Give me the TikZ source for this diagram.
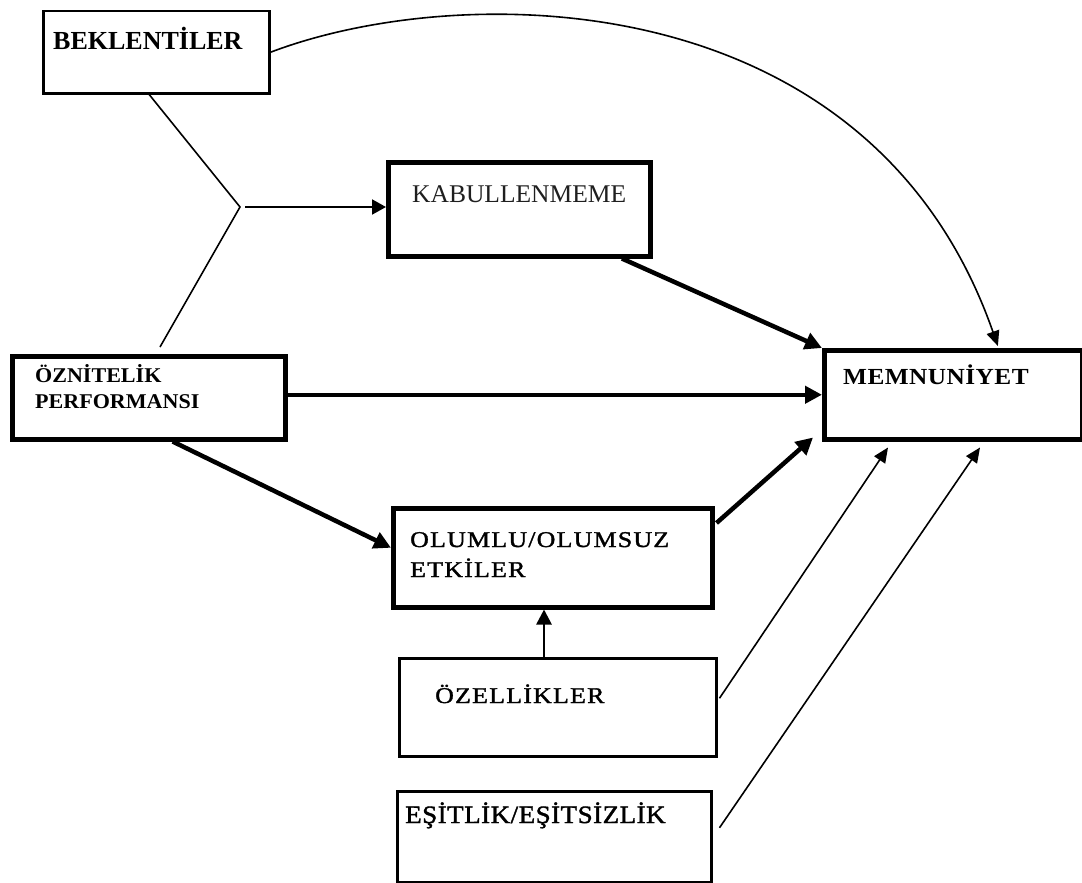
\documentclass[tikz,border=0pt]{standalone}
\usepackage{fontspec}
\setmainfont{Liberation Serif}
\newfontfamily\wideA[FakeStretch=1.15,LetterSpace=5.5,FakeBold=1.5]{Liberation Serif}
\newfontfamily\wideB[FakeStretch=1.08,LetterSpace=2,FakeBold=1.5]{Liberation Serif}
\newfontfamily\wideC[FakeStretch=1.1,LetterSpace=2]{Liberation Serif}
\newfontfamily\wideD[FakeStretch=1.05]{Liberation Serif}
\usetikzlibrary{arrows.meta,calc}
\begin{document}
\begin{tikzpicture}[x=1pt,y=-1pt,
  boxthin/.style={draw,line width=2.5pt,rectangle,inner sep=0pt,anchor=north west},
  boxthick/.style={draw,line width=4.5pt,rectangle,inner sep=0pt,anchor=north west},
  label text/.style={anchor=base west,inner sep=0pt,align=left},
  thinline/.style={line width=1.6pt},
  thinarrow/.style={line width=1.6pt,-{Triangle[length=15pt,width=13pt]}},
  forkarrow/.style={line width=2pt,-{Triangle[length=14pt,width=15pt]}},
  midarrow/.style={line width=2.6pt,-{Triangle[length=15pt,width=15pt]}},
  thickarrow/.style={line width=4.5pt,-{Triangle[length=17pt,width=17pt]}}]
\fill[white] (0,0) rectangle (1082,883);
\useasboundingbox (0,0) rectangle (1082,883);

% boxes
\node[boxthin,minimum width=226pt,minimum height=82pt] (bek) at (42,10) {};
\node[boxthick,minimum width=262pt,minimum height=94pt] (kab) at (386,160) {};
\node[boxthick,minimum width=273pt,minimum height=83pt] (ozn) at (10,354) {};
\node[boxthick,minimum width=258pt,minimum height=89pt] (mem) at (822,348) {};
\node[boxthick,minimum width=319pt,minimum height=99pt] (olu) at (391,506) {};
\node[boxthin,minimum width=317pt,minimum height=98pt] (oze) at (398,657) {};
\node[boxthin,minimum width=314pt,minimum height=91pt] (esi) at (396,790) {};

% texts
\node[label text,font=\fontsize{26}{31}\selectfont\bfseries] (bekT) at (53,50) {BEKLENTİLER};
\node[label text,font=\fontsize{25.5}{30}\selectfont,text=black!88] (kabT) at (412,202) {KABULLENMEME};
\node[label text,font=\fontsize{21}{26}\selectfont\wideD\bfseries] (oznT) at (35,382)
  {\begin{tabular}[t]{@{}l@{}}ÖZNİTELİK\\PERFORMANSI\end{tabular}};
\node[label text,font=\fontsize{23}{28}\selectfont\wideC\bfseries] (memT) at (843,384) {MEMNUNİYET};
\node[label text,font=\fontsize{22.5}{30}\selectfont\wideA] (oluT) at (410,547)
  {\begin{tabular}[t]{@{}l@{}}OLUMLU/OLUMSUZ\\ETKİLER\end{tabular}};
\node[label text,font=\fontsize{22.5}{28}\selectfont\wideA] (ozeT) at (435,703) {ÖZELLİKLER};
\node[label text,font=\fontsize{25}{29}\selectfont\wideB] (esiT) at (405,823) {EŞİTLİK/EŞİTSİZLİK};

% coordinates
\coordinate (fork) at (240,207);
\coordinate (bekS) at ($(bek.south west)!0.469!(bek.south east)$);
\coordinate (oznTop) at ($(ozn.north west)+(150,-7)$);
\coordinate (kabS) at ($(kab.south west)!0.885!(kab.south east)$);
\coordinate (oznS) at ($(ozn.south west)!0.586!(ozn.south east)$);
\coordinate (oluW) at ($(olu.west)+(0,-10)$);
\coordinate (oluE) at ($(olu.north east)+(2,17)$);
\coordinate (memSW) at ($(mem.south west)+(-9,-4)$);
\coordinate (ozeN) at ($(oze.north west)!0.457!(oze.north east)$);
\coordinate (ozeE) at ($(oze.east)+(2,-9)$);
\coordinate (esiE) at ($(esi.east)+(7,-9)$);
\coordinate (memA) at ($(mem.south west)+(66,6)$);
\coordinate (memB) at ($(mem.south west)+(158,6)$);
\coordinate (memN) at ($(mem.north west)!0.67!(mem.north east)$);

% connectors
\draw[thinline] (bekS) -- (fork) -- (oznTop);
\draw[forkarrow] ([xshift=5pt]fork) -- (fork -| kab.west);
\draw[thinarrow] (bek.east) .. controls (460,-20) and (870,-20) .. ([yshift=2pt]memN);
\draw[thickarrow] (kabS) -- (mem.north west);
\draw[thickarrow] (mem.west -| ozn.east) -- (mem.west);
\draw[thickarrow] (oznS) -- (oluW);
\draw[thickarrow] (oluE) -- (memSW);
\draw[midarrow] (ozeN) -- (ozeN |- olu.south);
\draw[thinarrow] (ozeE) -- (memA);
\draw[thinarrow] (esiE) -- (memB);
\end{tikzpicture}
\end{document}
